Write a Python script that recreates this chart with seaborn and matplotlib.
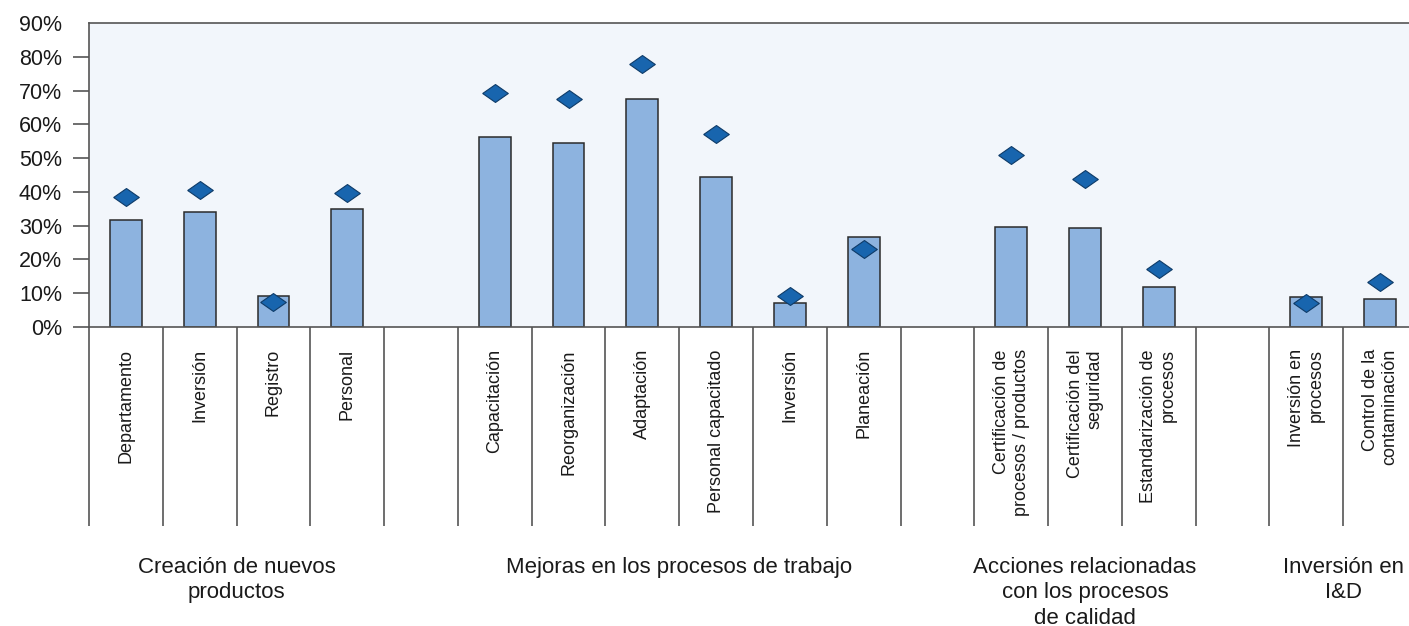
import numpy as np
import pandas as pd
import matplotlib
matplotlib.use('Agg')
import matplotlib.pyplot as plt
import seaborn as sns
from matplotlib.ticker import FuncFormatter

# --- DATOS ---
categorias = ['Departamento', 'Inversión', 'Registro', 'Personal', '',
              'Capacitación', 'Reorganización', 'Adaptación', 'Personal capacitado',
              'Inversión', 'Planeación', '',
              'Certificación de\nprocesos / productos', 'Certificación del\nseguridad',
              'Estandarización de\nprocesos', '',
              'Inversión en\nprocesos', 'Control de la\ncontaminación']
barras = [31.7, 34.0, 9.2, 34.9, np.nan,
          56.3, 54.5, 67.5, 44.4, 7.1, 26.6, np.nan,
          29.6, 29.3, 11.8, np.nan,
          8.9, 8.3]
rombos = [38.5, 40.6, 7.4, 39.7, np.nan,
          69.3, 67.5, 77.9, 57.1, 9.2, 23.1, np.nan,
          50.9, 43.8, 17.2, np.nan,
          7.1, 13.3]
grupos = ['Creación de nuevos\nproductos',
          'Mejoras en los procesos de trabajo',
          'Acciones relacionadas\ncon los procesos\nde calidad',
          'Inversión en\nI&D']
ticks_y = [0, 10, 20, 30, 40, 50, 60, 70, 80, 90]

# --- ESTILO ---
AZUL_BARRA = '#8DB3DF'
AZUL_ROMBO = '#1865AE'
GRIS_LINEA = '#555555'
FONDO = '#F2F6FB'

sns.set_style('white')
plt.rcParams['font.family'] = ['Liberation Sans', 'DejaVu Sans']

df = pd.DataFrame({'pos': range(len(categorias)), 'barra': barras, 'rombo': rombos})

fig = plt.figure(figsize=(14.09, 6.26), dpi=100)
ax = fig.add_axes([89 / 1409, 299 / 626, 1328 / 1409, 304 / 626])
ax.set_facecolor(FONDO)

sns.barplot(data=df, x='pos', y='barra', order=list(df['pos']), width=0.43,
            color=AZUL_BARRA, saturation=1, edgecolor='#2B2B2B', linewidth=1.1,
            errorbar=None, ax=ax, zorder=2)

# rombo algo más ancho que alto, como en el original
rombo = [(-1, 0), (0, 0.7), (1, 0), (0, -0.7), (-1, 0)]
sns.scatterplot(data=df, x='pos', y='rombo', marker=rombo, s=340, color=AZUL_ROMBO,
                edgecolor='#0E3B68', linewidth=0.8, ax=ax, zorder=3, legend=False)

ax.set_xlim(-0.5, len(categorias) - 0.5)
ax.set_ylim(0, 90)
ax.set_xlabel('')
ax.set_ylabel('')

# eje y
ax.set_yticks(ticks_y)
ax.yaxis.set_major_formatter(FuncFormatter(lambda v, p: f'{v:.0f}%'))
ax.tick_params(axis='y', length=11.5, width=1.2, color=GRIS_LINEA, pad=8,
               labelsize=15.5, labelcolor='#1A1A1A', left=True)
ax.yaxis.get_major_ticks()[-1].tick1line.set_visible(False)

# eje x: etiquetas verticales y separadores
ax.set_xticks(df['pos'])
ax.set_xticklabels(categorias, rotation=90, va='top', ha='center', multialignment='right',
                   fontsize=13, color='#1A1A1A',
                   family=['Liberation Sans Narrow', 'Liberation Sans', 'DejaVu Sans'])
ax.tick_params(axis='x', which='major', length=0, pad=16)
ax.set_xticks(np.arange(-0.5, len(categorias)), minor=True)
ax.tick_params(axis='x', which='minor', length=143, width=1.2, color=GRIS_LINEA, bottom=True)

for lado in ['left', 'top', 'bottom', 'right']:
    ax.spines[lado].set_visible(True)
    ax.spines[lado].set_color(GRIS_LINEA)
    ax.spines[lado].set_linewidth(1.2)

# etiquetas de grupo
inicio = 0
tramos = []
for i, c in enumerate(categorias + ['']):
    if c == '':
        tramos.append((inicio, i - 1))
        inicio = i + 1
for nombre, (ini, fin) in zip(grupos, tramos):
    ax.annotate(nombre, xy=((ini + fin) / 2, 69), xycoords=('data', 'figure pixels'),
                ha='center', va='top', multialignment='center', fontsize=16,
                linespacing=1.27, color='#1A1A1A')

fig.savefig('out.png', dpi=100)
